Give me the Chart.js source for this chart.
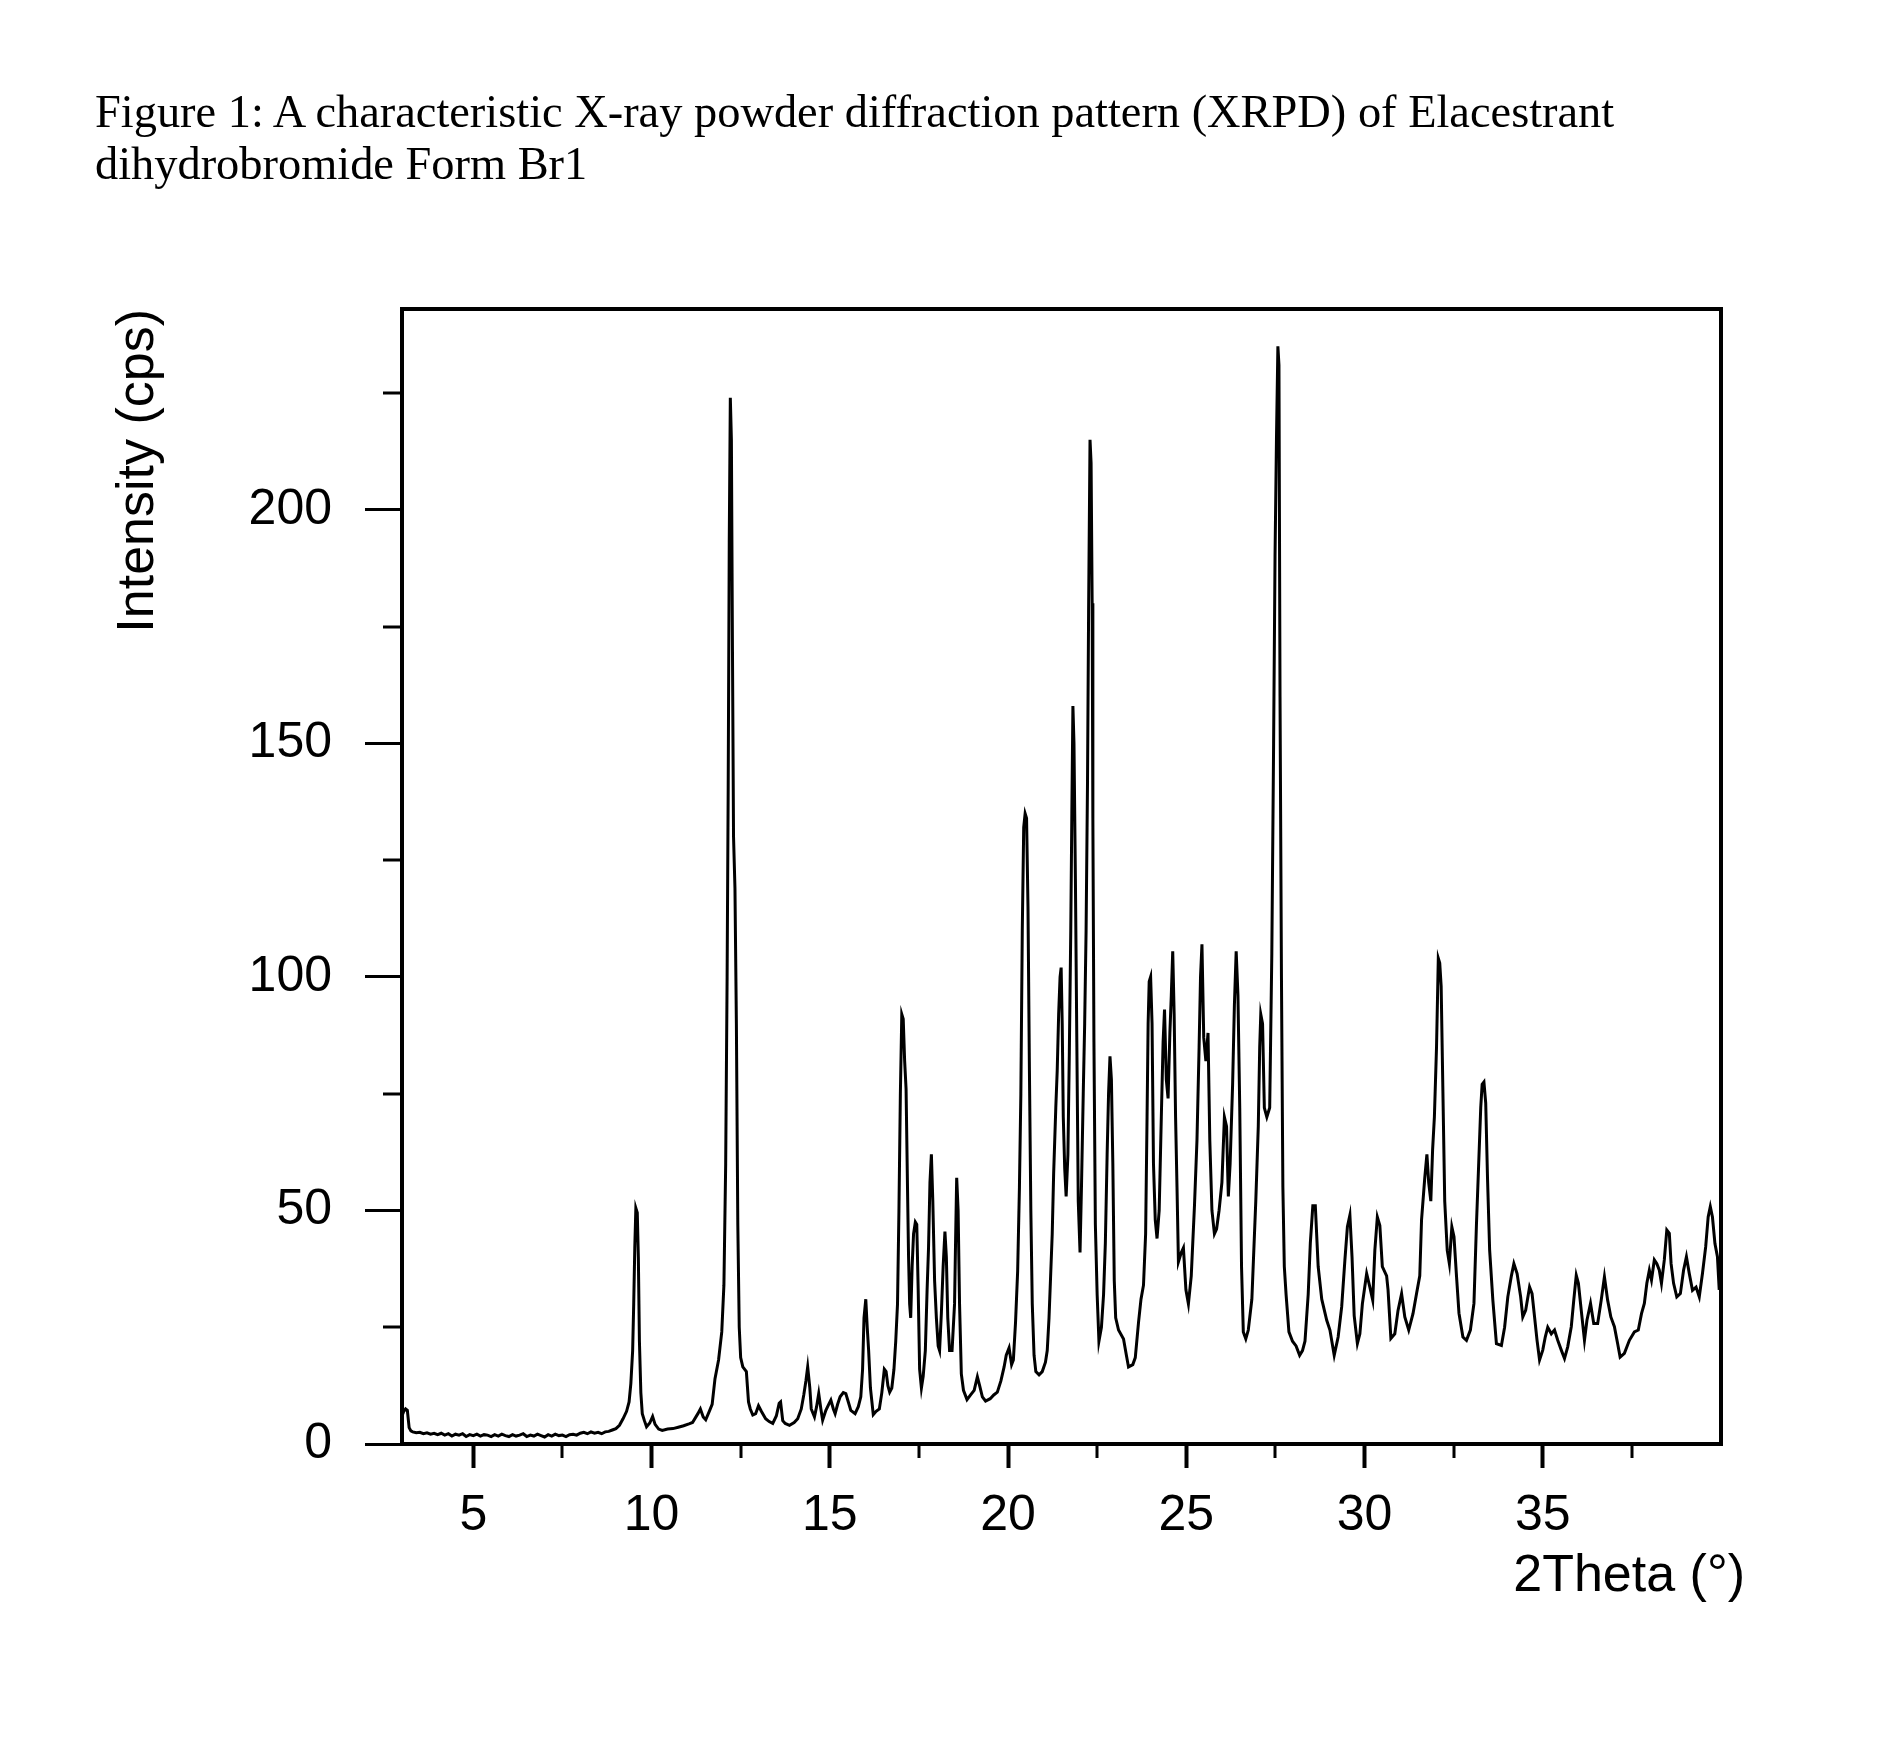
<!DOCTYPE html>
<html>
<head>
<meta charset="utf-8">
<script src="https://cdn.jsdelivr.net/npm/chart.js@4.4.1/dist/chart.umd.min.js"></script>
<style>
  html, body { margin: 0; padding: 0; background: #fff; }
  #wrap { position: relative; width: 1888px; height: 1760px; background: #fff; }
  #caption { position: absolute; left: 95px; top: 86px; font-family: "Liberation Serif", "Times New Roman", serif; font-size: 46.4px; line-height: 52px; color: #000; white-space: nowrap; }
  canvas { position: absolute; left: 0; top: 0; }
</style>
</head>
<body>
<div id="wrap">
  <canvas id="c" width="1888" height="1760"></canvas>
  <div id="caption">Figure 1: A characteristic X-ray powder diffraction pattern (XRPD) of Elacestrant<br>dihydrobromide Form Br1</div>
</div>
<script>
// ---- data ----
const xAxisTitle = "2Theta (°)";
const yAxisTitle = "Intensity (cps)";
const xMajorTicks = [5, 10, 15, 20, 25, 30, 35];
const xMinorTicks = [7.5, 12.5, 17.5, 22.5, 27.5, 32.5, 37.5];
const yMajorTicks = [0, 50, 100, 150, 200];
const yMinorTicks = [25, 75, 125, 175, 225];
const xRange = [3, 40];
const yRange = [0, 243];

// [2Theta, intensity] pairs of the scan
const scan = [
[3.00,6.0],[3.05,7.0],[3.10,7.5],[3.15,7.2],[3.20,3.5],[3.25,2.8],[3.30,2.6],[3.40,2.4],[3.50,2.5],[3.60,2.2],
[3.70,2.4],[3.80,2.1],[3.90,2.3],[4.00,2.0],[4.10,2.3],[4.20,1.9],[4.30,2.2],[4.40,1.7],[4.50,2.1],[4.60,1.9],
[4.70,2.2],[4.80,1.6],[4.90,2.0],[5.00,1.8],[5.10,2.1],[5.20,1.7],[5.30,2.0],[5.40,1.9],[5.50,1.6],[5.60,2.0],
[5.70,1.7],[5.80,2.1],[5.90,1.8],[6.00,1.6],[6.10,2.0],[6.20,1.7],[6.30,1.9],[6.40,2.2],[6.50,1.6],[6.60,1.9],
[6.70,1.7],[6.80,2.1],[6.90,1.8],[7.00,1.5],[7.10,2.0],[7.20,1.7],[7.30,2.1],[7.40,1.8],[7.50,1.9],[7.60,1.6],
[7.70,2.0],[7.80,2.1],[7.90,1.9],[8.00,2.3],[8.10,2.5],[8.20,2.2],[8.30,2.6],[8.40,2.3],[8.50,2.5],[8.60,2.2],
[8.70,2.6],[8.80,2.7],[8.90,3.0],[9.00,3.3],[9.10,4.0],[9.20,5.4],[9.30,7.0],[9.37,9.0],[9.42,13],[9.47,20],
[9.50,30],[9.53,42],[9.56,50.5],[9.60,49.5],[9.63,40],[9.66,22],[9.70,11],[9.74,6.5],[9.80,5.0],[9.86,3.7],
[9.95,4.5],[10.03,5.9],[10.10,4.2],[10.20,3.2],[10.30,2.9],[10.45,3.2],[10.60,3.3],[10.75,3.6],[10.90,3.9],[11.05,4.3],
[11.15,4.6],[11.30,6.5],[11.37,7.5],[11.45,5.8],[11.52,5.2],[11.62,7.0],[11.70,8.5],[11.78,14],[11.88,18],[11.97,24],
[12.03,34],[12.08,60],[12.12,100],[12.15,140],[12.18,193],[12.21,224],[12.24,215],[12.27,170],[12.30,130],[12.34,119],
[12.38,90],[12.42,47],[12.46,25],[12.50,18.5],[12.56,16.5],[12.66,15.5],[12.72,9],[12.77,7.5],[12.84,6.2],[12.92,6.5],
[13.00,8.2],[13.08,7.0],[13.20,5.4],[13.30,4.8],[13.40,4.4],[13.50,6.0],[13.58,8.7],[13.62,9.0],[13.68,5.0],[13.75,4.4],
[13.87,4.0],[14.00,4.6],[14.10,5.4],[14.20,7.5],[14.27,10.5],[14.33,13.5],[14.38,16.5],[14.44,12],[14.48,7.5],[14.57,5.8],
[14.63,8.0],[14.69,10.8],[14.75,7.5],[14.80,5.1],[14.89,7.2],[14.97,8.5],[15.03,9.4],[15.10,7.5],[15.15,6.5],[15.22,8.5],
[15.29,10.1],[15.38,11.0],[15.45,10.8],[15.52,9.0],[15.59,7.2],[15.71,6.5],[15.80,8.0],[15.87,10.1],[15.92,16],[15.96,27],
[16.01,31],[16.05,25],[16.09,20],[16.14,12],[16.22,6.3],[16.30,7.0],[16.39,7.5],[16.46,11],[16.53,16],[16.58,15.5],
[16.63,12.5],[16.68,11.1],[16.74,12.0],[16.80,16],[16.85,22],[16.90,30],[16.94,50],[16.98,75],[17.02,92],[17.06,91],
[17.10,82],[17.14,76],[17.18,55],[17.21,40],[17.24,30],[17.27,27],[17.31,38],[17.35,45],[17.40,47.5],[17.44,47],
[17.48,33],[17.52,16],[17.57,12],[17.62,14.5],[17.68,20],[17.73,33],[17.77,42],[17.81,56],[17.85,62],[17.89,52],
[17.94,35],[17.99,27],[18.04,21],[18.08,20],[18.13,28],[18.18,38],[18.23,45.5],[18.27,40],[18.31,27],[18.36,20],
[18.43,20],[18.50,30],[18.53,44],[18.56,57],[18.60,50],[18.64,30],[18.69,15],[18.75,11.5],[18.85,9.5],[18.95,10.5],
[19.05,11.5],[19.14,14.4],[19.20,12.6],[19.28,10.1],[19.37,9.2],[19.50,9.7],[19.60,10.5],[19.70,11.1],[19.80,13.5],[19.89,16.5],
[19.95,19],[20.03,20.6],[20.10,17],[20.15,18],[20.21,26],[20.27,37],[20.32,55],[20.36,75],[20.40,110],[20.44,132],
[20.48,135],[20.52,134],[20.56,115],[20.60,80],[20.64,50],[20.68,30],[20.73,19],[20.78,15.5],[20.87,14.8],[20.96,15.5],
[21.05,17.5],[21.10,20],[21.15,27],[21.19,35],[21.24,45],[21.28,58],[21.34,72],[21.38,80],[21.42,92],[21.46,100],
[21.49,102],[21.52,90],[21.55,70],[21.59,59],[21.63,53],[21.68,62],[21.72,84],[21.76,110],[21.79,135],[21.82,158],
[21.85,150],[21.89,121],[21.93,86],[21.97,52],[22.02,41],[22.06,55],[22.11,75],[22.15,90],[22.19,110],[22.23,142],
[22.26,178],[22.30,215],[22.33,210],[22.36,180],[22.38,134],[22.41,86],[22.45,47],[22.50,32],[22.55,22],[22.62,25],
[22.68,32],[22.73,43],[22.78,62],[22.82,75],[22.86,83],[22.90,78],[22.94,60],[22.98,35],[23.02,27],[23.10,24.4],
[23.24,22.5],[23.32,19],[23.38,16.5],[23.50,17],[23.57,18.5],[23.66,26],[23.73,31],[23.80,34],[23.86,45],[23.90,70],
[23.93,90],[23.96,99],[24.00,100],[24.04,90],[24.08,60],[24.13,48],[24.18,44],[24.24,50],[24.30,70],[24.35,86],
[24.39,93],[24.44,78],[24.49,74],[24.54,88],[24.58,96],[24.62,105.5],[24.66,92],[24.70,70],[24.74,55],[24.78,39],
[24.86,41],[24.92,42],[24.99,33],[25.06,30],[25.14,36],[25.23,51],[25.30,65],[25.36,85],[25.40,100],[25.44,107],
[25.49,87],[25.55,82],[25.61,88],[25.66,65],[25.72,50],[25.79,45],[25.85,46],[25.92,50],[26.00,56],[26.07,70],
[26.13,68],[26.18,53],[26.23,60],[26.30,77],[26.35,94],[26.40,105.5],[26.45,96],[26.50,72],[26.55,38],[26.60,24],
[26.67,22.5],[26.74,24.4],[26.84,31],[26.95,52],[27.02,68],[27.06,85],[27.09,92],[27.14,90],[27.19,72],[27.26,70],
[27.34,72],[27.40,105],[27.45,150],[27.49,190],[27.53,215],[27.57,235],[27.60,231],[27.63,160],[27.67,100],[27.71,55],
[27.75,38],[27.80,32],[27.88,24],[27.98,22],[28.08,21],[28.18,19],[28.26,20],[28.33,22],[28.42,32],[28.48,43],
[28.55,51],[28.62,51],[28.70,38],[28.80,31],[28.94,26.5],[29.03,24.4],[29.15,19],[29.26,22.9],[29.36,29.4],[29.45,39.4],
[29.52,46.5],[29.59,49],[29.65,40],[29.71,27.5],[29.80,21.5],[29.87,23.6],[29.94,30],[30.06,36.5],[30.15,33.6],[30.23,30.8],
[30.29,41.5],[30.36,48.6],[30.43,46.8],[30.50,38],[30.62,36],[30.66,33],[30.74,22.6],[30.85,23.6],[30.94,28.6],[31.04,32.2],
[31.13,27.2],[31.24,24.4],[31.36,27.9],[31.46,32.2],[31.55,36],[31.60,48],[31.69,57],[31.75,62],[31.80,56],[31.86,52],
[31.91,63],[31.96,70],[32.02,85],[32.07,104],[32.11,103],[32.15,98],[32.20,75],[32.25,52],[32.32,41.5],[32.38,38.6],
[32.45,46.5],[32.51,44.4],[32.58,36],[32.65,28],[32.76,22.9],[32.86,22.2],[32.97,24.4],[33.07,30.1],[33.14,47],[33.20,59.4],
[33.26,72],[33.30,77],[33.35,77.5],[33.40,73],[33.45,57],[33.51,41.5],[33.60,30.8],[33.70,21.5],[33.84,21.1],[33.93,25],
[34.02,31.5],[34.12,36],[34.19,38.6],[34.28,36.5],[34.38,31.5],[34.44,27.2],[34.52,28.6],[34.63,33.6],[34.70,32.2],[34.77,27.2],
[34.84,22.2],[34.91,18],[35.00,20.1],[35.07,22.9],[35.14,25],[35.24,23.6],[35.33,24.4],[35.42,22.2],[35.52,20.1],[35.61,18.3],
[35.70,20.8],[35.80,25.1],[35.87,30.8],[35.94,36.1],[36.00,34.4],[36.08,28.6],[36.17,22.2],[36.24,26.5],[36.34,30.1],[36.43,25.8],
[36.54,25.8],[36.64,30.8],[36.73,35.8],[36.82,30.8],[36.91,27.2],[37.01,25.1],[37.10,21.5],[37.17,18.6],[37.29,19.4],[37.43,22.2],
[37.57,24.0],[37.68,24.4],[37.77,27.9],[37.85,30.1],[37.92,34.4],[37.99,37.2],[38.05,35.1],[38.13,39.4],[38.20,38.6],[38.27,37.2],
[38.33,34.4],[38.41,39.4],[38.48,45.8],[38.55,45.1],[38.60,38.6],[38.67,34.4],[38.76,31.5],[38.86,32.2],[38.95,37.2],[39.03,40.1],
[39.11,36.5],[39.20,32.9],[39.30,33.6],[39.39,31.5],[39.48,36.5],[39.57,42.2],[39.64,48.6],[39.70,50.8],[39.76,48.6],[39.83,42.9],
[39.90,40.1],[39.95,33]
];
const twoTheta = scan.map(p => p[0]);
const intensity = scan.map(p => p[1]);

// ---- styling ----
const tickFont = { family: '"Liberation Sans", Arial, sans-serif', size: 50 };
const titleFont = { family: '"Liberation Sans", Arial, sans-serif', size: 52 };
const X_MINOR_LEN = 14, Y_MINOR_LEN = 19;

const framePlugin = {
  id: 'frame',
  afterDraw(chart) {
    const { ctx, chartArea: a, scales: { x, y } } = chart;
    ctx.save();
    ctx.strokeStyle = '#000';
    ctx.lineWidth = 3;
    ctx.beginPath();
    xMinorTicks.forEach(v => {
      const px = Math.round(x.getPixelForValue(v));
      ctx.moveTo(px, a.bottom); ctx.lineTo(px, a.bottom + X_MINOR_LEN);
    });
    yMinorTicks.forEach(v => {
      const py = Math.round(y.getPixelForValue(v));
      ctx.moveTo(a.left, py); ctx.lineTo(a.left - Y_MINOR_LEN, py);
    });
    ctx.stroke();
    ctx.lineWidth = 4;
    ctx.strokeRect(a.left, a.top, a.right - a.left, a.bottom - a.top);
    ctx.fillStyle = '#000';
    ctx.font = titleFont.size + 'px ' + titleFont.family;
    ctx.textAlign = 'right';
    ctx.textBaseline = 'alphabetic';
    ctx.fillText(xAxisTitle, a.right + 24, a.bottom + 147);
    ctx.restore();
  }
};

new Chart(document.getElementById('c'), {
  type: 'line',
  data: {
    datasets: [{
      label: 'XRPD',
      data: twoTheta.map((t, i) => ({ x: t, y: intensity[i] })),
      borderColor: '#000',
      borderWidth: 3,
      pointRadius: 0,
      tension: 0,
      fill: false
    }]
  },
  options: {
    responsive: false,
    animation: false,
    devicePixelRatio: 1,
    layout: { padding: { left: 0, right: 167, top: 309, bottom: 0 } },
    plugins: { legend: { display: false }, tooltip: { enabled: false }, title: { display: false } },
    scales: {
      x: {
        type: 'linear',
        min: xRange[0], max: xRange[1],
        afterBuildTicks: s => { s.ticks = [...xMajorTicks, ...xMinorTicks].sort((a, b) => a - b).map(v => ({ value: v })); },
        afterFit: s => { s.height = 316; },
        border: { display: false },
        grid: {
          display: true, drawOnChartArea: false, drawTicks: true, tickLength: 24, tickWidth: 4,
          tickColor: c => (c.tick && xMajorTicks.includes(c.tick.value)) ? '#000' : 'rgba(0,0,0,0)'
        },
        ticks: {
          autoSkip: false, maxRotation: 0, minRotation: 0, padding: 18, color: '#000', font: tickFont,
          callback: v => xMajorTicks.includes(v) ? String(v) : ''
        },
        title: { display: false, text: xAxisTitle }
      },
      y: {
        type: 'linear',
        min: yRange[0], max: yRange[1],
        afterBuildTicks: s => { s.ticks = [...yMajorTicks, ...yMinorTicks].sort((a, b) => a - b).map(v => ({ value: v })); },
        afterFit: s => { s.width = 402; },
        border: { display: false },
        grid: {
          display: true, drawOnChartArea: false, drawTicks: true, tickLength: 37, tickWidth: 3,
          tickColor: c => (c.tick && yMajorTicks.includes(c.tick.value)) ? '#000' : 'rgba(0,0,0,0)'
        },
        ticks: {
          autoSkip: false, padding: 33, color: '#000', font: tickFont,
          callback: v => yMajorTicks.includes(v) ? String(v) : ''
        },
        title: {
          display: true, text: yAxisTitle, align: 'end', color: '#000', font: titleFont,
          padding: { top: 107, bottom: 4 }
        }
      }
    }
  },
  plugins: [framePlugin]
});
</script>
</body>
</html>
